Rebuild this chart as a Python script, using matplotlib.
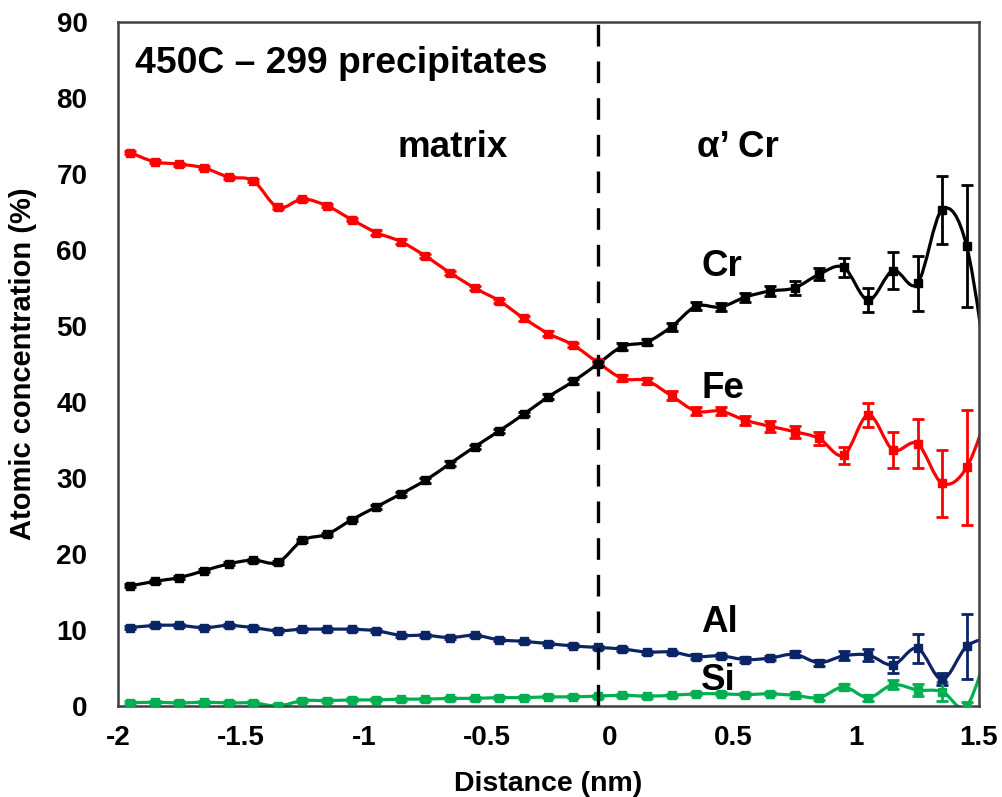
import matplotlib
matplotlib.use("Agg")
import matplotlib.pyplot as plt
from matplotlib.path import Path
from matplotlib.patches import PathPatch
import numpy as np

plt.rcParams['font.family'] = ['Liberation Sans', 'DejaVu Sans']
plt.rcParams['font.weight'] = 'bold'

# distance of each profile bin (nm); last bin lies just past the axis edge
dist = [-1.95, -1.85, -1.75, -1.65, -1.55, -1.45, -1.35, -1.25, -1.15, -1.05,
        -0.95, -0.85, -0.75, -0.65, -0.55, -0.45, -0.35, -0.25, -0.15, -0.05,
        0.05, 0.15, 0.25, 0.35, 0.45, 0.55, 0.65, 0.75, 0.85, 0.95,
        1.05, 1.15, 1.25, 1.35, 1.45, 1.55]

fe = [72.8, 71.6, 71.3, 70.8, 69.6, 69.1, 65.6, 66.7, 65.8, 64.0,
      62.3, 61.1, 59.2, 57.0, 55.0, 53.3, 51.0, 49.0, 47.5, 45.2,
      43.1, 42.8, 40.8, 38.8, 38.8, 37.6, 36.8, 36.1, 35.2, 33.0,
      38.3, 33.7, 34.5, 29.3, 31.4, 40.0]
fe_err = [0.2, 0.2, 0.2, 0.2, 0.2, 0.2, 0.2, 0.2, 0.2, 0.2,
          0.3, 0.3, 0.3, 0.3, 0.3, 0.3, 0.3, 0.3, 0.3, 0.3,
          0.4, 0.4, 0.6, 0.5, 0.5, 0.6, 0.7, 0.8, 0.9, 1.1,
          1.6, 2.4, 3.2, 4.4, 7.6, 0.0]

cr = [15.8, 16.4, 16.9, 17.8, 18.7, 19.2, 18.9, 21.8, 22.6, 24.5,
      26.2, 27.9, 29.7, 31.9, 34.1, 36.2, 38.4, 40.7, 42.7, 45.0,
      47.3, 47.9, 49.9, 52.6, 52.5, 53.8, 54.6, 55.0, 56.8, 57.7,
      53.4, 57.3, 55.6, 65.3, 60.5, 40.0]
cr_err = [0.2, 0.2, 0.2, 0.2, 0.2, 0.2, 0.2, 0.2, 0.2, 0.2,
          0.3, 0.3, 0.3, 0.3, 0.3, 0.3, 0.3, 0.3, 0.3, 0.3,
          0.4, 0.4, 0.5, 0.5, 0.5, 0.6, 0.6, 0.9, 0.8, 1.2,
          1.6, 2.4, 3.6, 4.5, 8.0, 0.0]

al = [10.3, 10.6, 10.6, 10.3, 10.6, 10.3, 9.9, 10.1, 10.1, 10.1,
      9.9, 9.3, 9.3, 9.0, 9.3, 8.7, 8.5, 8.2, 7.9, 7.7,
      7.5, 7.1, 7.1, 6.5, 6.6, 6.1, 6.3, 6.8, 5.7, 6.6,
      6.7, 5.4, 7.6, 3.5, 7.85, 9.0]
al_err = [0.2, 0.2, 0.2, 0.2, 0.2, 0.2, 0.2, 0.2, 0.2, 0.2,
          0.2, 0.2, 0.2, 0.2, 0.2, 0.2, 0.2, 0.2, 0.2, 0.2,
          0.2, 0.2, 0.2, 0.3, 0.3, 0.3, 0.3, 0.4, 0.4, 0.6,
          0.8, 1.1, 1.9, 0.8, 4.3, 0.0]

si = [0.4, 0.5, 0.4, 0.5, 0.4, 0.4, 0.0, 0.7, 0.7, 0.8,
      0.8, 0.9, 0.9, 1.0, 1.0, 1.1, 1.1, 1.2, 1.2, 1.3,
      1.4, 1.3, 1.4, 1.6, 1.6, 1.5, 1.6, 1.4, 1.1, 2.5,
      1.1, 2.8, 2.1, 1.9, 0.0, 9.0]
si_err = [0.2, 0.2, 0.2, 0.2, 0.2, 0.2, 0.2, 0.2, 0.2, 0.2,
          0.2, 0.2, 0.2, 0.2, 0.2, 0.2, 0.2, 0.2, 0.2, 0.2,
          0.2, 0.2, 0.2, 0.2, 0.2, 0.2, 0.2, 0.3, 0.3, 0.4,
          0.4, 0.6, 0.8, 1.3, 0.5, 0.0]

interface = -0.05

xticks = [-2, -1.5, -1, -0.5, 0, 0.5, 1, 1.5]
xtick_labels = ["-2", "-1.5", "-1", "-0.5", "0", "0.5", "1", "1.5"]
yticks = [0, 10, 20, 30, 40, 50, 60, 70, 80, 90]


def smooth_line(x, y):
    # Excel-style smoothed line: cubic Bezier segments through each point
    pts = np.column_stack([x, y]).astype(float)
    n = len(pts)
    verts = [pts[0]]
    codes = [Path.MOVETO]
    for i in range(n - 1):
        p0 = pts[i - 1] if i > 0 else pts[i]
        p1, p2 = pts[i], pts[i + 1]
        p3 = pts[i + 2] if i + 2 < n else pts[i + 1]
        verts += [p1 + (p2 - p0) / 6.0, p2 - (p3 - p1) / 6.0, p2]
        codes += [Path.CURVE4] * 3
    return Path(verts, codes)


fig = plt.figure(figsize=(10.03, 7.97), dpi=100)
ax = fig.add_axes([0.1176, 0.1142, 0.8585, 0.8582])

series = [(fe, fe_err, '#FF0000'), (cr, cr_err, '#000000'),
          (al, al_err, '#0B2466'), (si, si_err, '#00B050')]
for vals, err, col in series:
    ax.add_patch(PathPatch(smooth_line(dist, vals), fill=False,
                           edgecolor=col, lw=2.3, zorder=2))
    ax.errorbar(dist, vals, yerr=err, fmt='s', color=col, ms=5.5,
                elinewidth=2, capsize=4.5, capthick=2, zorder=3)

ax.plot([interface, interface], [0, 90], color='black', lw=2.4,
        dashes=(6.5, 4.5), zorder=4)

ax.text(-1.93, 84.5, "450C – 299 precipitates", fontsize=26.8,
        fontweight='bold', ha='left', va='center')
ax.text(-0.64, 73.5, "matrix", fontsize=26.5, fontweight='bold',
        ha='center', va='center')
ax.text(0.355, 73.5, "α’ Cr", fontsize=26.5, fontweight='bold',
        ha='left', va='center')
ax.text(0.37, 57.8, "Cr", fontsize=26.5, fontweight='bold', ha='left', va='center')
ax.text(0.37, 41.8, "Fe", fontsize=26.5, fontweight='bold', ha='left', va='center')
ax.text(0.37, 11.0, "Al", fontsize=26.5, fontweight='bold', ha='left', va='center')
ax.text(0.37, 3.4, "Si", fontsize=26.5, fontweight='bold', ha='left', va='center')

ax.set_xlim(-2, 1.5)
ax.set_ylim(0, 90)
ax.set_xticks(xticks)
ax.set_xticklabels(xtick_labels)
ax.set_yticks(yticks)
ax.tick_params(length=0, labelsize=20, pad=14)
ax.tick_params(axis='y', pad=22)
for lab in ax.get_xticklabels() + ax.get_yticklabels():
    lab.set_fontweight('bold')

ax.set_xlabel("Distance (nm)", fontsize=20.5, fontweight='bold', labelpad=14)
ax.set_ylabel("Atomic concentration (%)", fontsize=21, fontweight='bold',
              labelpad=14)

for sp in ax.spines.values():
    sp.set_color('#404040')
    sp.set_linewidth(1.8)

fig.savefig("out.png", dpi=100)
